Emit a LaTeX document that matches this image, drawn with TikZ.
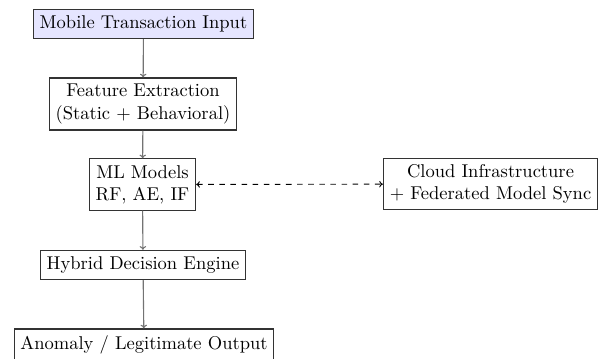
\documentclass[tikz,border=0pt]{standalone}
\usetikzlibrary{arrows.meta}
\begin{document}
\begin{tikzpicture}[x=0.54pt,y=-0.54pt,
  box/.style={draw=black!80, align=center, inner sep=3.4pt, line width=0.6pt},
  flow/.style={draw=black!55, -{To[length=2pt,width=3.5pt]}, line width=0.6pt},
  sync/.style={draw=black, {To[length=2pt,width=3.5pt]}-{To[length=2pt,width=3.5pt]}, dashed, line width=0.5pt}]
\useasboundingbox (0,0) rectangle (600,358);
\node[box, fill=blue!10] (inp) at (143.5,24) {Mobile Transaction Input};
\node[box] (feat) at (143,104) {Feature Extraction\\(Static + Behavioral)};
\node[box] (ml) at (142.5,184.5) {ML Models\\RF, AE, IF};
\node[box] (cloud) at (490.5,184) {Cloud Infrastructure\\+ Federated Model Sync};
\node[box] (hyb) at (143,265) {Hybrid Decision Engine};
\node[box] (out) at (144,344.5) {Anomaly / Legitimate Output};
\draw[flow] (inp) -- (feat);
\draw[flow] (feat) -- (ml);
\draw[flow] (ml) -- (hyb);
\draw[flow] (hyb) -- (out);
\draw[sync] (ml) -- (cloud);
\end{tikzpicture}
\end{document}
